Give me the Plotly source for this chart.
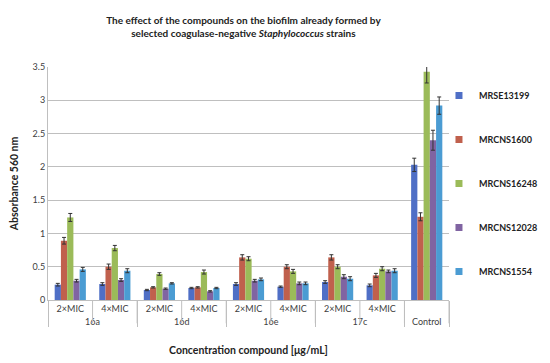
import plotly.graph_objects as go

compounds = ["16a", "16a", "16d", "16d", "16e", "16e", "17c", "17c", "Control"]
concentrations = ["2×MIC", "4×MIC", "2×MIC", "4×MIC", "2×MIC", "4×MIC", "2×MIC", "4×MIC", " "]

series_names = ["MRSE13199", "MRCNS1600", "MRCNS16248", "MRCNS12028", "MRCNS1554"]
MRSE13199 = [0.23, 0.24, 0.15, 0.18, 0.24, 0.20, 0.27, 0.22, 2.03]
MRCNS1600 = [0.89, 0.50, 0.19, 0.19, 0.64, 0.50, 0.64, 0.37, 1.25]
MRCNS16248 = [1.24, 0.78, 0.39, 0.42, 0.62, 0.43, 0.50, 0.47, 3.43]
MRCNS12028 = [0.29, 0.30, 0.17, 0.13, 0.29, 0.25, 0.35, 0.43, 2.40]
MRCNS1554 = [0.46, 0.44, 0.25, 0.18, 0.31, 0.25, 0.32, 0.44, 2.92]

err_MRSE13199 = [0.02, 0.02, 0.01, 0.01, 0.02, 0.01, 0.02, 0.02, 0.10]
err_MRCNS1600 = [0.05, 0.04, 0.01, 0.01, 0.04, 0.03, 0.04, 0.03, 0.06]
err_MRCNS16248 = [0.06, 0.04, 0.02, 0.03, 0.03, 0.03, 0.03, 0.03, 0.17]
err_MRCNS12028 = [0.02, 0.02, 0.01, 0.01, 0.02, 0.02, 0.03, 0.02, 0.15]
err_MRCNS1554 = [0.03, 0.03, 0.01, 0.01, 0.02, 0.02, 0.03, 0.03, 0.13]

values = [MRSE13199, MRCNS1600, MRCNS16248, MRCNS12028, MRCNS1554]
errors = [err_MRSE13199, err_MRCNS1600, err_MRCNS16248, err_MRCNS12028, err_MRCNS1554]
colors = ["#4F6FC6", "#C0604D", "#9BBB59", "#8064A2", "#4B9CD3"]

FONT = "Lato"

fig = go.Figure()
for name, v, e, c in zip(series_names, values, errors, colors):
    fig.add_trace(go.Bar(
        x=[compounds, concentrations], y=v, name=name,
        marker=dict(color=c, line=dict(width=0)),
        error_y=dict(type="data", array=e, color="#333333", thickness=1, width=2),
        showlegend=False,
    ))
# legend entries with small square symbols
for name, c in zip(series_names, colors):
    fig.add_trace(go.Scatter(
        x=[[compounds[0]], [concentrations[0]]], y=[None], name="<b>" + name + "</b>",
        mode="markers", marker=dict(symbol="square", size=7, color=c),
        legendgroup=name, showlegend=True, hoverinfo="skip",
    ))

# separators between inner categories (first label row)
for i in range(len(compounds) + 1):
    fig.add_shape(type="line", xref="x", yref="paper",
                  x0=i - 0.5, x1=i - 0.5, y0=0, y1=-0.1,
                  line=dict(color="#BFBFBF", width=1))

fig.update_layout(
    width=550, height=363,
    paper_bgcolor="white", plot_bgcolor="white",
    margin=dict(l=40, r=109, t=59, b=71, autoexpand=False),
    barmode="group", bargap=0.3, bargroupgap=0,
    title=dict(
        text="<b>The effect of the compounds on the biofilm already formed by<br>selected coagulase-negative <i>Staphylococcus</i> strains</b>",
        x=0.428, xanchor="center", y=0.955, yanchor="top",
        font=dict(family=FONT, size=10, color="#222222"),
    ),
    font=dict(family=FONT, size=9, color="#404040"),
    legend=dict(x=0.975, xanchor="left", y=0.5, yanchor="middle",
                font=dict(family=FONT, size=9, color="#222222"),
                tracegroupgap=25, itemwidth=30, bgcolor="rgba(0,0,0,0)"),
    showlegend=True,
)
fig.update_xaxes(
    type="multicategory",
    showline=True, linecolor="#BFBFBF", linewidth=1,
    showdividers=True, dividercolor="#BFBFBF", dividerwidth=1,
    tickfont=dict(family=FONT, size=9, color="#404040"),
    title=dict(text="<b>Concentration compound [μg/mL]</b>",
               font=dict(family=FONT, size=10.5, color="#222222"), standoff=20),
    range=[-0.5, 8.5],
)
fig.update_yaxes(
    range=[0, 3.5], dtick=0.5, tick0=0,
    showgrid=True, gridcolor="#BFBFBF", gridwidth=1,
    showline=True, linecolor="#BFBFBF", linewidth=1,
    zeroline=False,
    tickfont=dict(family=FONT, size=9, color="#404040"),
    tickformat="~g",
    title=dict(text="<b>Absorbance 560 nm</b>",
               font=dict(family=FONT, size=10.5, color="#222222"), standoff=12),
    ticks="",
)

fig.write_html("out.html")
